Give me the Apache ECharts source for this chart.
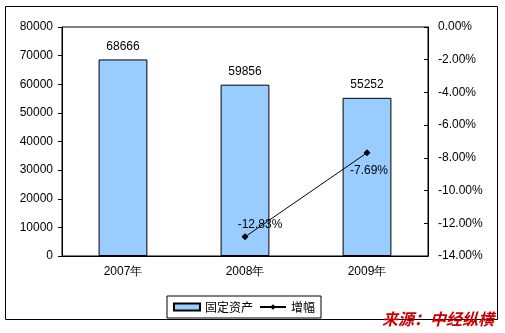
<!DOCTYPE html>
<html><head><meta charset="utf-8">
<script src="https://cdn.jsdelivr.net/npm/echarts@6/dist/echarts.min.js"></script>
<style>html,body{margin:0;padding:0;background:#fff}#c{width:505px;height:333px}</style>
</head><body><div id="c"></div>
<script>
const categories = ['2007年', '2008年', '2009年'];
const assetValues = [68666, 59856, 55252];
const growthValues = [null, -12.83, -7.69];
const leftTicks = [0, 80000, 10000];
const rightTicks = [-14, 0, 2];

const font = '"Liberation Sans", Arial, sans-serif';
const chart = echarts.init(document.getElementById('c'));
chart.setOption({
  animation: false,
  backgroundColor: '#fff',
  textStyle: { fontFamily: font },
  grid: { left: 62, right: 77, top: 27, bottom: 77, show: true, borderColor: '#000', borderWidth: 1 },
  legend: {
    left: 167, top: 296, width: 154, height: 18,
    itemGap: 6, itemWidth: 26, itemHeight: 7,
    padding: [5, 6, 5, 6],
    borderColor: '#000', borderWidth: 1,
    textStyle: { fontSize: 12, color: '#000', fontFamily: '"Noto Sans CJK SC", sans-serif' },
    data: [
      { name: '固定资产', icon: 'rect' },
      { name: '增幅' }
    ]
  },
  xAxis: {
    type: 'category', data: categories,
    axisLine: { lineStyle: { color: '#000', width: 1 } },
    axisTick: { inside: true, length: 4, lineStyle: { color: '#000' } },
    axisLabel: { color: '#000', fontSize: 12, margin: 10, fontFamily: font }
  },
  yAxis: [
    {
      type: 'value', min: leftTicks[0], max: leftTicks[1], interval: leftTicks[2],
      axisLine: { show: true, lineStyle: { color: '#000' } },
      axisTick: { show: true, length: 4, lineStyle: { color: '#000' } },
      splitLine: { show: false },
      axisLabel: { color: '#000', fontSize: 12, margin: 9, fontFamily: font, formatter: v => String(v) }
    },
    {
      type: 'value', min: rightTicks[0], max: rightTicks[1], interval: rightTicks[2],
      position: 'right',
      axisLine: { show: true, lineStyle: { color: '#000' } },
      axisTick: { show: true, inside: true, length: 4, lineStyle: { color: '#000' } },
      splitLine: { show: false },
      axisLabel: { color: '#000', fontSize: 12, margin: 10, align: 'left', fontFamily: font,
        formatter: v => v.toFixed(2) + '%' }
    }
  ],
  series: [
    {
      name: '固定资产', type: 'bar', data: assetValues, barWidth: '40%',
      itemStyle: { color: '#99CCFF', borderColor: '#000', borderWidth: 1 },
      label: { show: true, position: 'top', color: '#000', fontSize: 12, distance: 7, fontFamily: font }
    },
    {
      name: '增幅', type: 'line', yAxisIndex: 1, data: growthValues,
      symbol: 'diamond', symbolSize: 7, showSymbol: true,
      lineStyle: { color: '#000', width: 1 }, itemStyle: { color: '#000' },
      label: { show: true, color: '#000', fontSize: 12, fontFamily: font,
        formatter: p => p.value.toFixed(2) + '%' },
      labelLayout: function (p) {
        if (p.dataIndex === 1) return { dx: 15, dy: 2 };
        return { dx: 2, dy: 32 };
      }
    }
  ],
  graphic: [
    { type: 'rect', shape: { x: 5.5, y: 6.5, width: 492, height: 313 }, style: { fill: null, stroke: '#000', lineWidth: 1 }, silent: true, z: -1 },
    { type: 'text', left: 382, top: 311, style: { text: '来源：中经纵横', fill: '#CC0000', font: 'italic bold 16px "Noto Sans CJK SC", sans-serif' }, z: 10 }
  ]
});
</script></body></html>
